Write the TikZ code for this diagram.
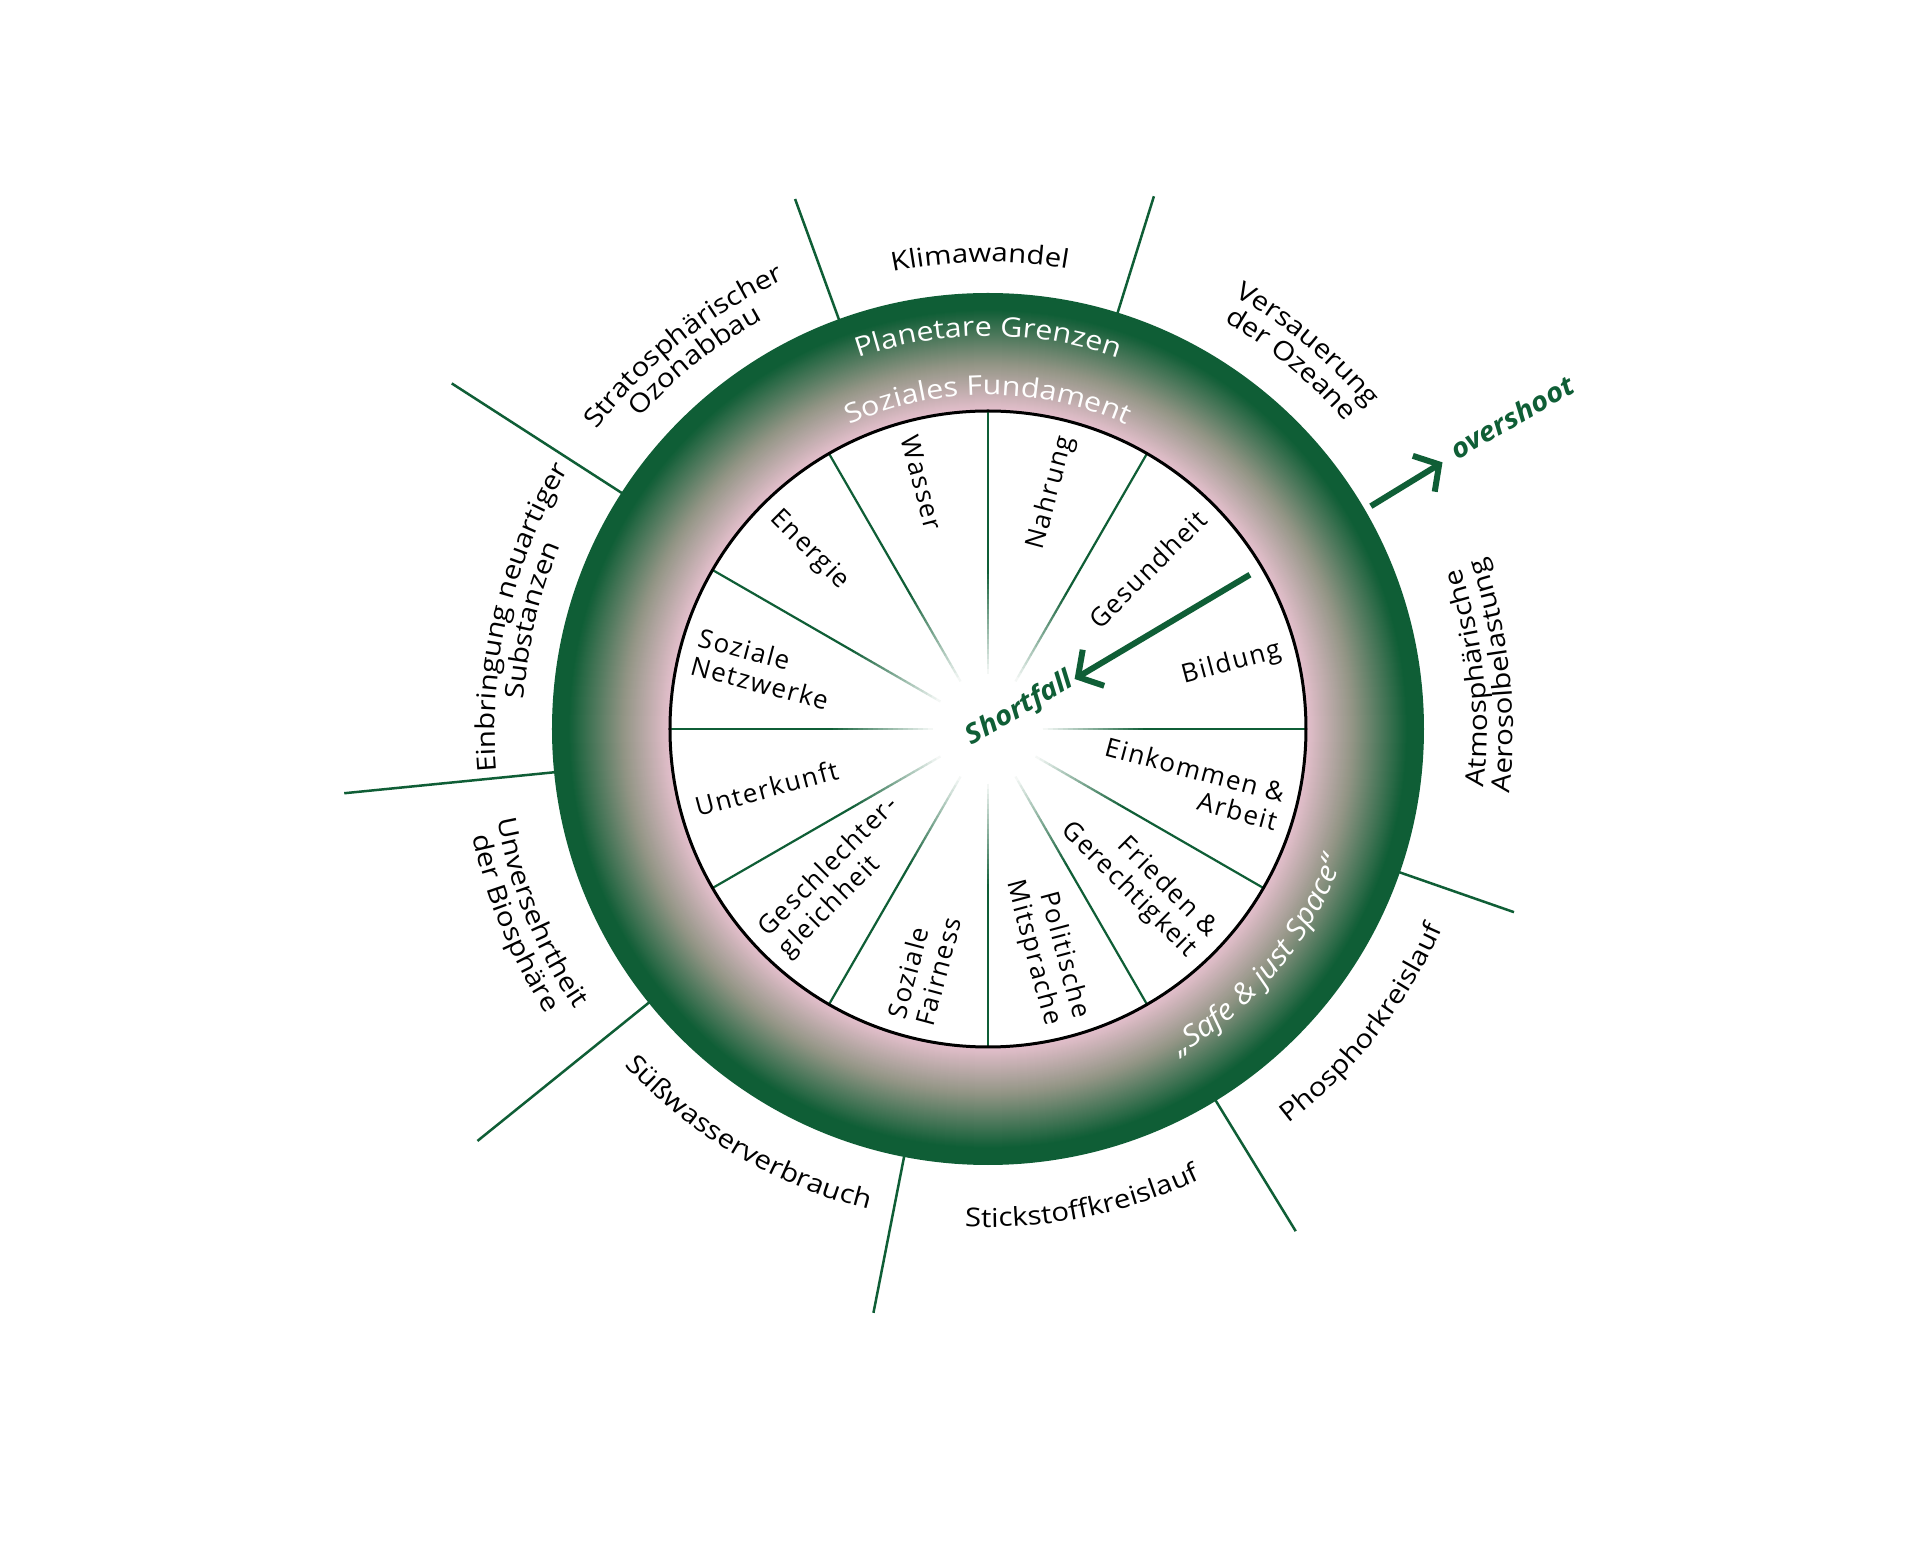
\documentclass[tikz,border=0pt]{standalone}
\usepackage{fontspec}
\setmainfont{Open Sans}
\newfontfamily\labfam{Open Sans}[LetterSpace=6]
\newfontfamily\curvfam{Open Sans}[FakeStretch=1.13]
\newfontfamily\handfam{Open Sans}[FakeStretch=1.08]
\usetikzlibrary{decorations.text,arrows.meta}
\definecolor{dgreen}{RGB}{15,94,54}
\definecolor{midgray}{RGB}{146,149,133}
\definecolor{pinkc}{RGB}{230,192,206}
\newcommand\labfont{\labfam\fontsize{26}{29}\selectfont}
\newcommand\curvfont{\curvfam\fontsize{26}{29}\selectfont}
\newcommand\ringfont{\curvfam\fontsize{27}{30}\selectfont\color{white}}
\newcommand\handfont{\handfam\itshape\bfseries\fontsize{27}{30}\selectfont}
\newcommand\safefont{\handfam\itshape\fontsize{29}{30}\selectfont\color{white}}
% clockwise curved label (tops outward)
\newcommand\cwlabel[3]{%
  \path[decorate, decoration={text along path, text={|\curvfont|#3}, text align=center}]
    (#1+45:#2) arc[start angle=#1+45, end angle=#1-45, radius=#2];}
% counter-clockwise curved label (tops inward)
\newcommand\ccwlabel[3]{%
  \path[decorate, decoration={text along path, text={|\curvfont|#3}, text align=center}]
    (#1-45:#2) arc[start angle=#1-45, end angle=#1+45, radius=#2];}
\tikzset{
  ray/.style={draw=dgreen, line width=2.5pt},
  spoke/.style={draw=dgreen, line width=2.2pt},
  inlab/.style={font=\labfont, inner sep=0pt, text=black},
  bigarrow/.style={draw=dgreen, line width=6pt, -{Straight Barb[length=18pt,width=42pt]}},
  hand/.style={font=\handfont, text=dgreen, inner sep=0pt}
}
\begin{document}
\begin{tikzpicture}[x=1pt,y=1pt]
\useasboundingbox[fill=white] (-988,-815) rectangle (932,729);
% planetary boundary rays
\foreach \a/\e in {110/564, 72.7/558, 340.8/557, 301.5/589, 258.9/595, 218.9/656, 185.7/647, 147.2/638}{
  \draw[ray] (\a:430) -- (\a:\e);
}
% ring with radial gradient
\foreach \i in {0,...,118}{
  \pgfmathsetmacro{\rr}{436-\i}
  \pgfmathsetmacro{\rt}{(\rr-318)/118}
  \ifdim\rt pt>0.86pt
    \colorlet{ringc}{dgreen}
  \else\ifdim\rt pt>0.4pt
    \pgfmathsetmacro{\rmix}{(\rt-0.4)/0.46*100}
    \colorlet{ringc}{dgreen!\rmix!midgray}
  \else
    \pgfmathsetmacro{\rmix}{\rt/0.4*100}
    \colorlet{ringc}{midgray!\rmix!pinkc}
  \fi\fi
  \fill[ringc] (0,0) circle[radius=\rr];
}
\fill[white] (0,0) circle[radius=318];
% spokes fading towards the centre
\foreach \a in {0,60,90,120,150,180,210,240,270,300,330}{
  \draw[spoke] (\a:160) -- (\a:318);
  \foreach \k in {0,...,20}{
    \pgfmathsetmacro{\ra}{55+\k*5}
    \pgfmathsetmacro{\rb}{\ra+5.3}
    \pgfmathsetmacro{\mm}{(\k+1)/21*100}
    \draw[spoke, draw=dgreen!\mm!white] (\a:\ra) -- (\a:\rb);
  }
}
\draw[black, line width=3pt] (0,0) circle[radius=318];
% ring texts
\path[decorate, decoration={text along path, text={|\ringfont|Planetare Grenzen}, text align=center}]
  (135:393) arc[start angle=135, end angle=45, radius=393];
\path[decorate, decoration={text along path, text={|\ringfont|Soziales Fundament}, text align=center}]
  (135:334) arc[start angle=135, end angle=45, radius=334];
\path[decorate, decoration={text along path, text={|\safefont|„Safe {\&} just Space“}, text align=center}]
  (280:378) arc[start angle=280, end angle=360, radius=378];
% outer labels
\cwlabel{91}{467}{Klimawandel}
\cwlabel{50.3}{498}{Versauerung}
\cwlabel{50.3}{471}{der Ozeane}
\cwlabel{128.5}{493}{Stratosphärischer}
\cwlabel{128.5}{467}{Ozonabbau}
\cwlabel{166.6}{493}{Einbringung neuartiger}
\cwlabel{166.6}{465}{Substanzen}
\ccwlabel{202.3}{499}{Unversehrtheit}
\ccwlabel{202.3}{526}{der Biosphäre}
\ccwlabel{239.4}{495}{Süßwasserverbrauch}
\ccwlabel{281.3}{498}{Stickstoffkreislauf}
\ccwlabel{321.8}{496}{Phosphorkreislauf}
\ccwlabel{6}{499}{Atmosphärische}
\ccwlabel{6}{525}{Aerosolbelastung}
% inner labels (right half)
\node[inlab, rotate=75, anchor=east, align=right] (nahrung) at (75:303) {Nahrung};
\node[inlab, rotate=45, anchor=east, align=right] (gesundheit) at (45:303) {Gesundheit};
\node[inlab, rotate=15, anchor=east, align=right] (bildung) at (15:303) {Bildung};
\node[inlab, rotate=-15, anchor=east, align=right] (einkommen) at (-15:303) {Einkommen \&\\Arbeit};
\node[inlab, rotate=-45, anchor=east, align=right] (frieden) at (-45:303) {Frieden \&\\Gerechtigkeit};
\node[inlab, rotate=-75, anchor=east, align=right] (politik) at (-75:303) {Politische\\Mitsprache};
% inner labels (left half)
\node[inlab, rotate=-75, anchor=west, align=left] (wasser) at (105:303) {Wasser};
\node[inlab, rotate=-45, anchor=west, align=left] (energie) at (135:303) {Energie};
\node[inlab, rotate=-15, anchor=west, align=left] (netzwerke) at (165:303) {Soziale\\Netzwerke};
\node[inlab, rotate=15, anchor=west, align=left] (unterkunft) at (195:303) {Unterkunft};
\node[inlab, rotate=45, anchor=west, align=left] (gleichheit) at (225:303) {Geschlechter-\\gleichheit};
\node[inlab, rotate=75, anchor=west, align=left] (fairness) at (255:303) {Soziale\\Fairness};
% overshoot / shortfall
\coordinate (os1) at (30.2:443);
\coordinate (os2) at (30.4:527);
\draw[bigarrow] (os1) -- (os2);
\node[hand, rotate=30] (overshoot) at (524,312) {overshoot};
\coordinate (sf1) at (30.5:304);
\coordinate (sf2) at (30:100);
\draw[bigarrow] (sf1) -- (sf2);
\node[hand, rotate=30] (shortfall) at (32,20) {Shortfall};
\end{tikzpicture}
\end{document}
